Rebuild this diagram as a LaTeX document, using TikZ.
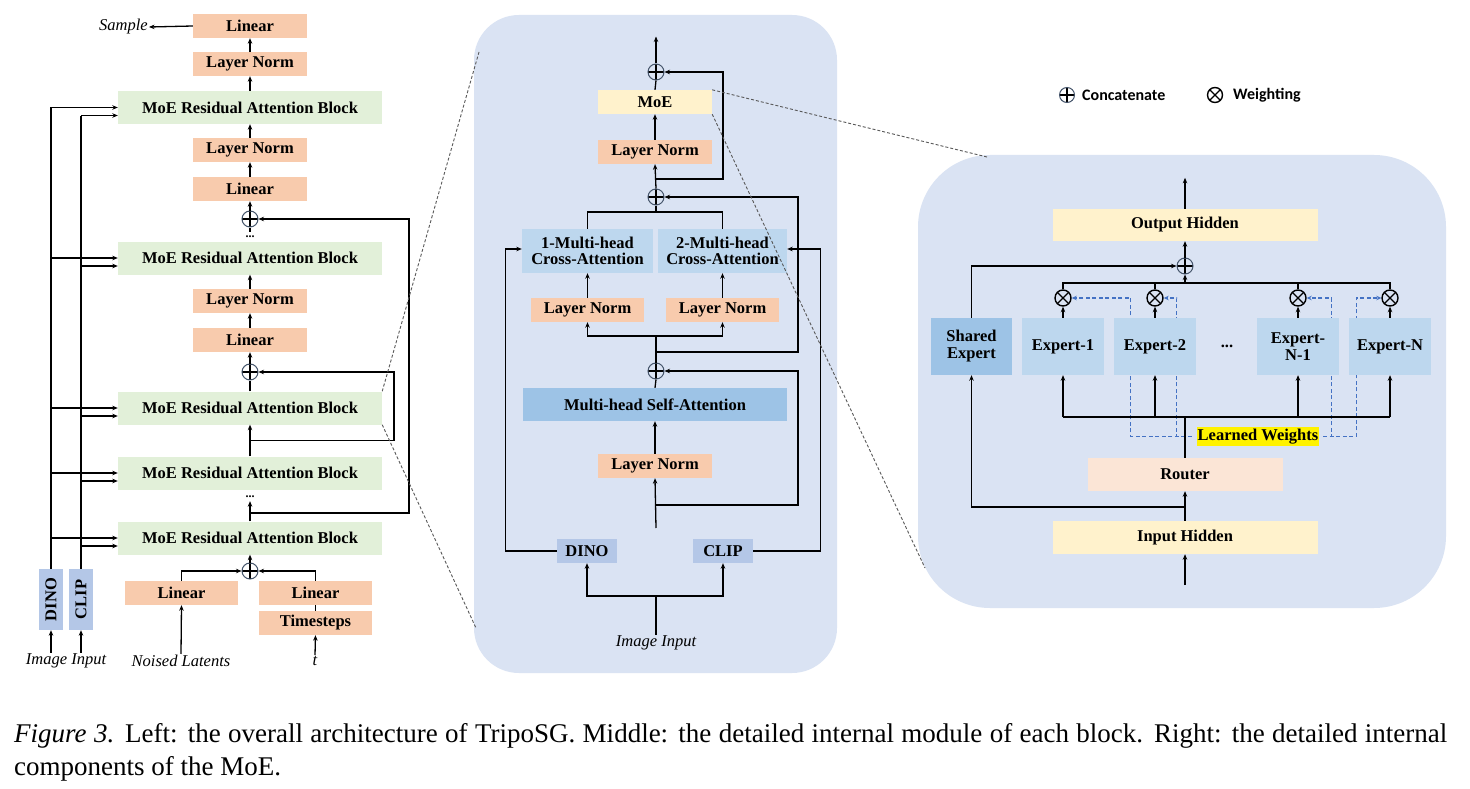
\documentclass[tikz,border=0pt]{standalone}
\usepackage{fontspec}
\setmainfont{Liberation Serif}
\newfontfamily\legendfont{Carlito}
\usetikzlibrary{arrows.meta,calc}
\definecolor{orangeF}{HTML}{F8CBAD}
\definecolor{greenF}{HTML}{E2F0D9}
\definecolor{dinoF}{HTML}{B4C7E7}
\definecolor{panelF}{HTML}{DAE3F3}
\definecolor{yellowF}{HTML}{FFF2CC}
\definecolor{caF}{HTML}{BDD7EE}
\definecolor{saF}{HTML}{9DC3E6}
\definecolor{routerF}{HTML}{FBE5D6}
\definecolor{dashB}{HTML}{4472C4}
\definecolor{cpcol}{HTML}{44546A}
\definecolor{zoomG}{HTML}{595959}
\begin{document}
\begin{tikzpicture}[x=1pt,y=-1pt,
  bx/.style={inner sep=0pt, font=\bfseries\fontsize{16.5}{18}\selectfont, align=center},
  obox/.style={bx, fill=orangeF, minimum width=114pt, minimum height=24pt},
  gbox/.style={bx, fill=greenF, minimum width=264pt, minimum height=33pt},
  dbox/.style={bx, fill=dinoF},
  ybox/.style={bx, fill=yellowF},
  cabox/.style={bx, fill=caF},
  sabox/.style={bx, fill=saF},
  rbox/.style={bx, fill=routerF},
  itx/.style={inner sep=1pt, font=\itshape\fontsize{16.5}{18}\selectfont},
  dotx/.style={inner sep=0pt, font=\bfseries\fontsize{12}{13}\selectfont},
  arr/.style={line width=1.3pt, -{Stealth[length=5.5pt,width=4.5pt]}},
  lnk/.style={line width=1.3pt},
  vl/.style={line width=2pt},
  darr/.style={line width=1.2pt, dashB, dash pattern=on 4pt off 2.5pt, -{Stealth[length=5pt,width=4.5pt]}},
  zl/.style={line width=0.9pt, zoomG, dash pattern=on 3pt off 2pt},
  cplus/.style={circle, draw=cpcol, line width=1pt, minimum size=16pt, inner sep=0pt,
    path picture={\draw[black,line width=1.1pt] (path picture bounding box.north) -- (path picture bounding box.south)
      (path picture bounding box.west) -- (path picture bounding box.east);}},
  ctimes/.style={circle, draw=black, line width=1.4pt, minimum size=16pt, inner sep=0pt,
    path picture={\draw[black,line width=1.3pt] (path picture bounding box.north west) -- (path picture bounding box.south east)
      (path picture bounding box.north east) -- (path picture bounding box.south west);}},
]
\useasboundingbox[fill=white] (0,0) rectangle (1470,789);

% ================= LEFT PANEL =================
\node[obox] (linA) at (250,26) {Linear};
\node[itx, anchor=east] (sample) at (149,27) {Sample};
\node[obox] (lnA) at (250,64) {Layer Norm};
\node[gbox] (moe1) at (250,107.5) {MoE Residual Attention Block};
\node[obox] (lnB) at (250,150) {Layer Norm};
\node[obox] (linB) at (250,189) {Linear};
\node[cplus] (cp1) at (250,219) {};
\node[dotx] (dots1) at (250,237) {...};
\node[gbox] (moe2) at (250,258) {MoE Residual Attention Block};
\node[obox] (lnC) at (250,301) {Layer Norm};
\node[obox] (linC) at (250,340) {Linear};
\node[cplus] (cp2) at (250,372) {};
\node[gbox] (moe3) at (250,408) {MoE Residual Attention Block};
\node[gbox] (moe4) at (250,473) {MoE Residual Attention Block};
\node[dotx] (dots2) at (250,497) {...};
\node[gbox] (moe5) at (250,538) {MoE Residual Attention Block};
\node[cplus] (cp3) at (250,571) {};
\node[obox, minimum width=113pt] (linN) at (181.5,593) {Linear};
\node[obox, minimum width=113pt] (linT) at (315.5,593) {Linear};
\node[obox, minimum width=113pt] (ts) at (315.5,623) {Timesteps};
\node[dbox, minimum width=24pt, minimum height=61pt] (dino) at (51,599.5) {\rotatebox{90}{DINO}};
\node[dbox, minimum width=24pt, minimum height=61pt] (clip) at (81,599.5) {\rotatebox{90}{CLIP}};
\node[itx] (ii) at (66,661) {Image Input};
\node[itx] (nl) at (181,661) {Noised Latents};
\node[itx] (tt) at (315,661) {t};

\draw[arr] (linA.west) -- (sample.east);
\draw[arr] (lnA.north) -- (linA.south);
\draw[arr] (moe1.north) -- (lnA.south);
\draw[arr] (lnB.north) -- (moe1.south);
\draw[arr] (linB.north) -- (lnB.south);
\draw[arr] (cp1.north) -- (linB.south);
\draw[lnk] ($(dots1.north)+(0,-4)$) -- (cp1.south);
\draw[arr] (lnC.north) -- (moe2.south);
\draw[arr] (linC.north) -- (lnC.south);
\draw[arr] (cp2.north) -- (linC.south);
\draw[lnk] (moe3.north) -- (cp2.south);
\draw[arr] (moe4.north) -- (moe3.south);
\draw[arr] (moe5.north) -- ($(dots2.south)+(0,3)$);
\draw[arr] (cp3.north) -- (moe5.south);
\coordinate (s1) at ($(moe3.south)!0.5!(moe4.north)$);
\draw[arr] (s1) -- ++(144,0) |- (cp2.east);
\coordinate (s2) at (250,513);
\draw[arr] (s2) -- ++(159,0) |- (cp1.east);
\draw[arr] (linN.north) |- (cp3.west);
\draw[arr] (linT.north) |- (cp3.east);
\draw[lnk] (ts.north) -- (linT.south);
\draw[arr] (nl.north) -- (linN.south);
\draw[arr] (tt.north) -- (ts.south);
\draw[arr] (ii.north -| dino.south) -- (dino.south);
\draw[arr] (ii.north -| clip.south) -- (clip.south);
% DINO / CLIP feeds
\draw[vl] (dino.north) -- (dino.north |- moe1.west);
\draw[vl] (clip.north) -- ($(clip.north |- moe1.west)+(0,9)$);
\foreach \m in {moe1,moe2,moe3,moe4,moe5}{
  \draw[arr] (dino.north |- \m.west) -- (\m.west);
  \draw[arr] ($(clip.north |- \m.west)+(0,8)$) -- ($(\m.west)+(0,8)$);
}

% ================= MIDDLE PANEL =================
\fill[panelF, rounded corners=45pt] (474,15) rectangle (837,673);
\node[cplus] (cpA) at (656,72) {};
\node[ybox, minimum width=114pt, minimum height=24pt] (moeM) at (655,102) {MoE};
\node[obox] (lnM1) at (655,152) {Layer Norm};
\node[cplus] (cpB) at (656,197) {};
\node[cabox, minimum width=131pt, minimum height=44pt] (ca1) at (587.5,251) {1-Multi-head\\[-2pt]Cross-Attention};
\node[cabox, minimum width=129pt, minimum height=44pt] (ca2) at (722.5,251) {2-Multi-head\\[-2pt]Cross-Attention};
\node[obox, minimum width=113pt] (ln1) at (587.5,310) {Layer Norm};
\node[obox, minimum width=113pt] (ln2) at (722.5,310) {Layer Norm};
\node[cplus] (cpC) at (656,371) {};
\node[sabox, minimum width=264pt, minimum height=33pt] (sa) at (655,404.5) {Multi-head Self-Attention};
\node[obox] (lnS) at (655,466) {Layer Norm};
\node[dbox, minimum width=60pt, minimum height=24pt] (dinoM) at (587,551) {DINO};
\node[dbox, minimum width=60pt, minimum height=24pt] (clipM) at (723,551) {CLIP};
\node[itx] (ii2) at (656,643) {Image Input};

\draw[arr] (cpA.north) -- ++(0,-27);
\draw[lnk] (moeM.north) -- (cpA.south);
\draw[arr] (lnM1.north) -- (moeM.south);
\draw[arr] (cpB.north) -- (lnM1.south);
\coordinate (m1) at (656,179);
\draw[arr] (m1) -- ++(67,0) |- (cpA.east);
\coordinate (m2) at (656,212);
\draw[lnk] (cpB.south) -- (m2);
\draw[lnk] (ca1.north) |- (m2) -| (ca2.north);
\coordinate (m3) at (656,352);
\draw[arr] (m3) -- ++(142,0) |- (cpB.east);
\draw[arr] (ln1.north) -- (ca1.south);
\draw[arr] (ln2.north) -- (ca2.south);
\coordinate (m4) at (656,336);
\draw[lnk] (cpC.north) -- (m4);
\draw[arr] (m4) -| (ln1.south);
\draw[arr] (m4) -| (ln2.south);
\draw[lnk] (sa.north) -- (cpC.south);
\draw[arr] (lnS.north) -- (sa.south);
\coordinate (m5) at (656,528);
\draw[arr] (m5) -- (lnS.south);
\coordinate (m6) at (656,505);
\draw[arr] (m6) -- ++(142,0) |- (cpC.east);
\draw[arr] (dinoM.west) -- ++(-51,0) |- ($(ca1.west)+(0,-2)$);
\draw[arr] (clipM.east) -- ++(67,0) |- ($(ca2.east)+(0,-2)$);
\coordinate (m8) at (656,596);
\draw[lnk] (ii2.north) -- (m8);
\draw[arr] (m8) -| (dinoM.south);
\draw[arr] (m8) -| (clipM.south);

% ================= RIGHT PANEL =================
\fill[panelF, rounded corners=72pt] (918,155) rectangle (1446,608);
\node[bx, fill=yellow, inner xsep=1pt, inner ysep=1.5pt] (lw) at (1258,436.5) {Learned Weights};
\node[ctimes] (w1) at (1063,298) {};
\node[ctimes] (w2) at (1155,298) {};
\node[ctimes] (w3) at (1298,298) {};
\node[ctimes] (w4) at (1390,298) {};
\draw[darr] ($(lw.west)+(-5,0)$) -| ($(w1.east)+(59,0)$) -- (w1.east);
\draw[darr] ($(lw.west)+(-5,0)$) -| ($(w2.east)+(13,0)$) -- (w2.east);
\draw[darr] ($(lw.east)+(4,0)$) -| ($(w3.east)+(25,0)$) -- (w3.east);
\draw[darr] ($(lw.east)+(4,0)$) -| ($(w4.west)+(-25,0)$) -- (w4.west);

\node[ybox, minimum width=265pt, minimum height=32pt] (outH) at (1185,225) {Output Hidden};
\node[cplus] (cpD) at (1185,266) {};
\node[sabox, minimum width=81pt, minimum height=57pt] (shE) at (971.5,346.5) {Shared\\[-1pt]Expert};
\node[cabox, minimum width=82pt, minimum height=57pt] (e1) at (1063,346.5) {Expert-1};
\node[cabox, minimum width=82pt, minimum height=57pt] (e2) at (1155,346.5) {Expert-2};
\node[bx] (dotsR) at (1227,346) {...};
\node[cabox, minimum width=82pt, minimum height=57pt] (e3) at (1298,346.5) {Expert-\\[-1pt]N-1};
\node[cabox, minimum width=82pt, minimum height=57pt] (e4) at (1390,346.5) {Expert-N};
\node[rbox, minimum width=195pt, minimum height=33pt] (router) at (1185,474.5) {Router};
\node[ybox, minimum width=265pt, minimum height=33pt] (inH) at (1185,537.5) {Input Hidden};

\draw[arr] (outH.north) -- ++(0,-31);
\draw[arr] (cpD.north) -- (outH.south);
\draw[arr] (shE.north) |- (cpD.west);
\coordinate (tb) at (1185,283);
\draw[lnk] (w1.north) |- (tb) -| (w4.north);
\draw[lnk] (w2.north) -- (w2.north |- tb);
\draw[lnk] (w3.north) -- (w3.north |- tb);
\draw[arr] (tb) -- (cpD.south);
\foreach \e/\w in {e1/w1,e2/w2,e3/w3,e4/w4}{
  \draw[arr] (\e.north) -- (\w.south);
}
\coordinate (bb) at (1185,417);
\draw[lnk] (e1.south |- bb) -- (e4.south |- bb);
\foreach \e in {e1,e2,e3,e4}{
  \draw[arr] (\e.south |- bb) -- (\e.south);
}
\draw[lnk] (router.north) -- (bb);
\draw[arr] (inH.north) -- (router.south);
\coordinate (sb) at (1185,507);
\draw[arr] (sb) -| (shE.south);
\draw[arr] ($(inH.south)+(0,31)$) -- (inH.south);

% legend
\node[cplus, minimum size=15pt] (lg1) at (1067,95) {};
\node[anchor=west, inner sep=0pt, font=\legendfont\bfseries\fontsize{16}{18}\selectfont] (lg1t) at (1082,95) {Concatenate};
\node[ctimes, minimum size=15pt] (lg2) at (1215,95) {};
\node[anchor=west, inner sep=0pt, font=\legendfont\bfseries\fontsize{16}{18}\selectfont] (lg2t) at (1233,95) {Weighting};

% zoom lines
\draw[zl] (moe3.north east) -- (479,52);
\draw[zl] (moe3.south east) -- (476,628);
\draw[zl] (moeM.north east) -- (987,157);
\draw[zl] (moeM.south east) -- (925,568);

% caption
\node[anchor=base west, inner sep=0pt] (cap1) at (14,742) {\fontsize{27}{32}\selectfont\makebox[1433pt][s]{\textit{Figure 3.} Left: the overall architecture of TripoSG. Middle: the detailed internal module of each block. Right: the detailed internal}};
\node[anchor=base west, inner sep=0pt] (cap2) at (14,775) {\fontsize{27}{32}\selectfont components of the MoE.};
\end{tikzpicture}
\end{document}
